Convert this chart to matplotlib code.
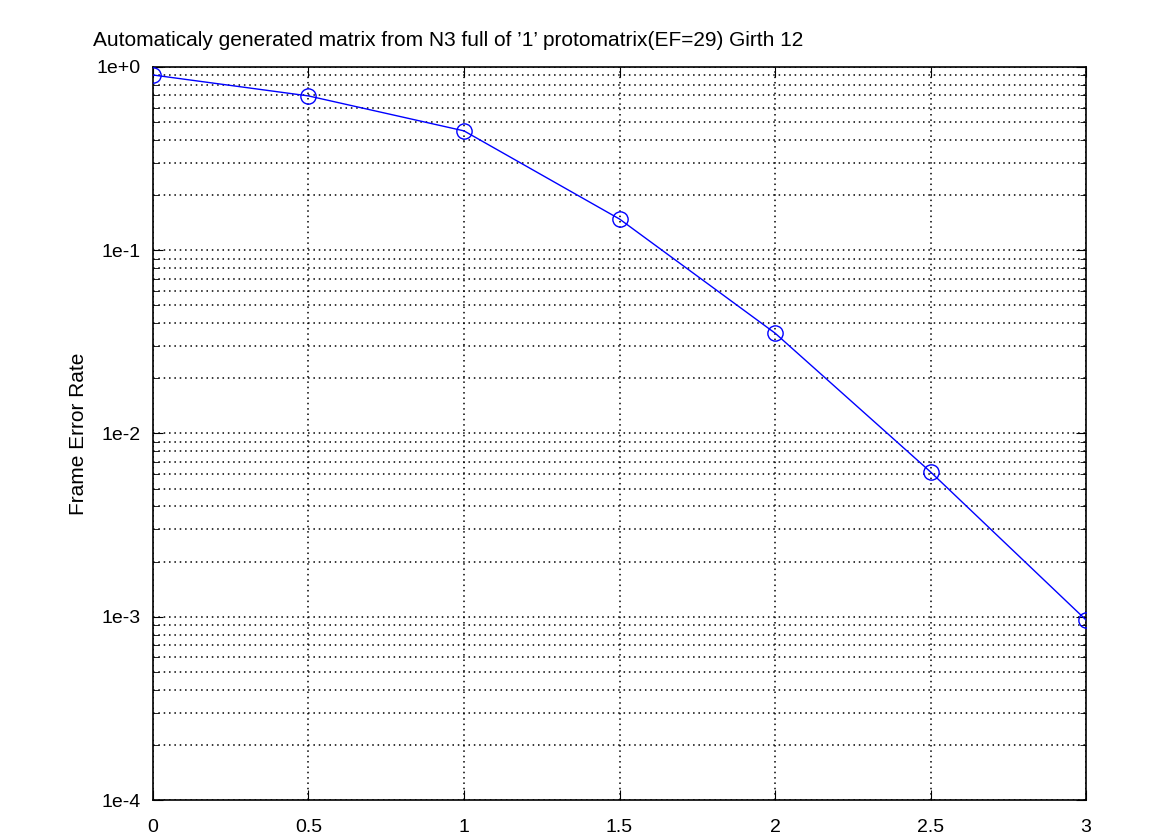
import math
import matplotlib
matplotlib.use("Agg")
import matplotlib.pyplot as plt
from matplotlib.ticker import LogLocator, FixedLocator, FuncFormatter, NullFormatter

# Data
snr = [0, 0.5, 1, 1.5, 2, 2.5, 3]
fer = [0.904, 0.695, 0.448, 0.148, 0.0353, 0.00617, 0.00096]
x_ticks = [0, 0.5, 1, 1.5, 2, 2.5, 3]
x_tick_labels = ["0", "0.5", "1", "1.5", "2", "2.5", "3"]
title = "Automaticaly generated matrix from N3 full of \u20191\u2019 protomatrix(EF=29) Girth 12"

plt.rcParams['font.family'] = ['Liberation Sans', 'DejaVu Sans']

fig = plt.figure(figsize=(11.75, 8.35), dpi=100)
ax = fig.add_axes([0.1302, 0.0419, 0.7941, 0.8779])

ax.plot(snr, fer, color='#0000ff', linewidth=1, marker='o', markersize=11,
        markerfacecolor='none', markeredgecolor='#0000ff', markeredgewidth=1, zorder=3)

ax.set_yscale('log')
ax.set_ylim(1e-4, 1)
ax.set_xlim(0, 3)

ax.xaxis.set_major_locator(FixedLocator(x_ticks))
ax.set_xticklabels(x_tick_labels)
ax.yaxis.set_major_locator(LogLocator(base=10, numticks=10))
ax.yaxis.set_minor_locator(LogLocator(base=10, subs=range(2, 10), numticks=50))
ax.yaxis.set_major_formatter(FuncFormatter(
    lambda v, p: "1e+0" if v >= 1 else "1e%d" % round(math.log10(v))))
ax.yaxis.set_minor_formatter(NullFormatter())

ax.grid(True, which='major', axis='both', color='black', linestyle=(0, (1, 2.5)), linewidth=1.1)
ax.grid(True, which='minor', axis='y', color='black', linestyle=(0, (1, 2.5)), linewidth=1.1)

ax.tick_params(which='both', direction='in', top=True, right=True, labelsize=14, color='black')
ax.tick_params(which='major', length=7)
ax.tick_params(axis='x', which='major', pad=14)
ax.tick_params(axis='y', which='major', pad=9)
ax.tick_params(which='minor', length=4)
for s in ax.spines.values():
    s.set_linewidth(1.2)

ax.set_ylabel("Frame Error Rate", fontsize=15, labelpad=6)
fig.text(93 / 1175, 1 - 40 / 835, title, fontsize=15, ha='left', va='center')

fig.savefig("out.png", dpi=100)
